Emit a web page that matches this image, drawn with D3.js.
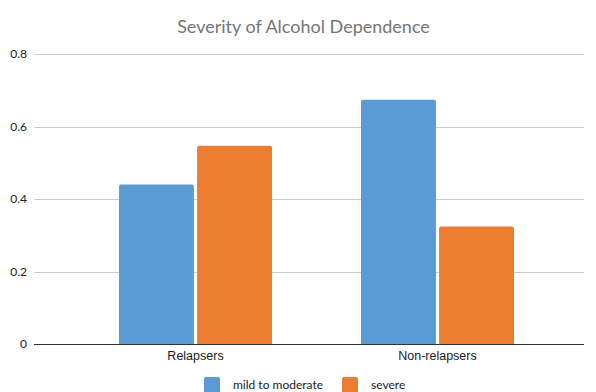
<!DOCTYPE html>
<html>
<head>
<meta charset="utf-8">
<script src="https://cdn.jsdelivr.net/npm/d3@7"></script>
<style>
  body { margin: 0; background: #fff; }
  text { font-family: Lato, sans-serif; }
</style>
</head>
<body>
<div id="app"></div>
<script>
'use strict'

const categories = ['Relapsers', 'Non-relapsers']
const seriesNames = ['mild to moderate', 'severe']
const mildValues = [0.44, 0.674]
const severeValues = [0.547, 0.324]
const yTicks = [0, 0.2, 0.4, 0.6, 0.8]
const colors = ['#5b9bd5', '#ed7d31']

const width = 596
const height = 392
const plot = { left: 34, right: 584, top: 54, bottom: 344 }

const data = categories.map((c, i) => ({ category: c, values: [mildValues[i], severeValues[i]] }))

const svg = d3.select('#app').append('svg')
	.attr('width', width)
	.attr('height', height)

const yScale = d3.scaleLinear()
	.domain([0, 0.8])
	.range([plot.bottom, plot.top])

const xScale = d3.scaleBand()
	.domain(categories)
	.range([74.5, 558.5])

const groupWidth = 153
const xInner = d3.scaleBand()
	.domain(seriesNames)
	.range([0, groupWidth])
	.paddingInner(0.04)

// Title
svg.append('text')
	.attr('x', 303.5)
	.attr('y', 33)
	.attr('text-anchor', 'middle')
	.style('font-size', '18px')
	.style('fill', '#757575')
	.text('Severity of Alcohol Dependence')

// Grid lines
svg.append('g')
	.selectAll('line')
	.data(yTicks.filter(d => d > 0))
	.enter().append('line')
	.attr('x1', plot.left)
	.attr('x2', plot.right)
	.attr('y1', d => Math.round(yScale(d)) + 0.5)
	.attr('y2', d => Math.round(yScale(d)) + 0.5)
	.style('stroke', '#cccccc')
	.style('stroke-width', 1)

// Y labels
svg.append('g')
	.selectAll('text')
	.data(yTicks)
	.enter().append('text')
	.attr('x', 27)
	.attr('y', d => yScale(d))
	.attr('dy', '0.35em')
	.attr('text-anchor', 'end')
	.style('font-size', '12px')
	.style('fill', '#222')
	.text(d => d3.format('')(d))

// Bars
const groups = svg.append('g')
	.selectAll('g')
	.data(data)
	.enter().append('g')
	.attr('transform', d => `translate(${xScale(d.category) + xScale.bandwidth() / 2 - groupWidth / 2}, 0)`)

groups.selectAll('path')
	.data(d => d.values.map((v, i) => ({ name: seriesNames[i], value: v, i })))
	.enter().append('path')
	.attr('d', d => {
		const x0 = xInner(d.name)
		const w = xInner.bandwidth()
		const y0 = yScale(d.value)
		const y1 = yScale(0)
		const r = 2
		return `M${x0},${y1}V${y0 + r}Q${x0},${y0} ${x0 + r},${y0}H${x0 + w - r}Q${x0 + w},${y0} ${x0 + w},${y0 + r}V${y1}Z`
	})
	.style('fill', d => colors[d.i])

// X axis line
svg.append('line')
	.attr('x1', plot.left)
	.attr('x2', plot.right)
	.attr('y1', plot.bottom + 0.5)
	.attr('y2', plot.bottom + 0.5)
	.style('stroke', '#333')
	.style('stroke-width', 1)

// X labels
svg.append('g')
	.selectAll('text')
	.data(categories)
	.enter().append('text')
	.attr('x', d => xScale(d) + xScale.bandwidth() / 2)
	.attr('y', 360)
	.attr('text-anchor', 'middle')
	.style('font-family', '"Liberation Sans", Arial, sans-serif')
	.style('font-size', '12.5px')
	.style('fill', '#222')
	.text(d => d)

// Legend
const legendX = [204, 342]
const legend = svg.append('g')
	.selectAll('g')
	.data(seriesNames)
	.enter().append('g')
	.attr('transform', (d, i) => `translate(${legendX[i]}, 377)`)

legend.append('rect')
	.attr('width', 16)
	.attr('height', 16)
	.attr('rx', 2)
	.style('fill', (d, i) => colors[i])

legend.append('text')
	.attr('x', 29)
	.attr('y', 8)
	.attr('dy', '0.35em')
	.style('font-size', '12px')
	.style('fill', '#222')
	.text(d => d)
</script>
</body>
</html>
